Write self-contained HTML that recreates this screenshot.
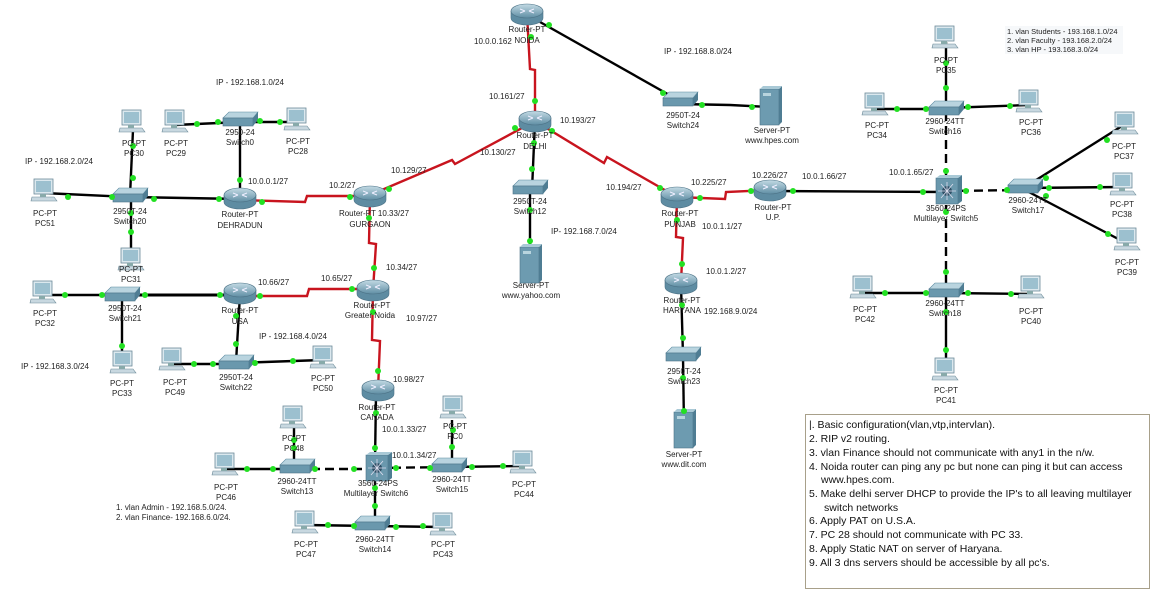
<!DOCTYPE html>
<html><head><meta charset="utf-8"><style>
html,body{margin:0;padding:0;background:#fff;}
svg{display:block;}
text{font-family:"Liberation Sans",sans-serif;font-size:8px;fill:#222;}
.lbl{text-anchor:middle;}
.box text{font-size:10.5px;fill:#111;}
</style></head><body>
<svg width="1157" height="601" viewBox="0 0 1157 601" xmlns="http://www.w3.org/2000/svg">
<defs>
<linearGradient id="rg" x1="0" y1="0" x2="0" y2="1"><stop offset="0" stop-color="#c4dbe5"/><stop offset="1" stop-color="#5f8ea4"/></linearGradient>
<linearGradient id="sg" x1="0" y1="0" x2="0" y2="1"><stop offset="0" stop-color="#a9c9d6"/><stop offset="1" stop-color="#5b8aa0"/></linearGradient>
<g id="router">
<path d="M-16,-3 L-16,4 A16,7 0 0 0 16,4 L16,-3 Z" fill="#5e8ca2" stroke="#4d7387" stroke-width="0.6"/>
<ellipse cx="0" cy="-3" rx="16" ry="7" fill="url(#rg)" stroke="#4d7387" stroke-width="0.6"/>
<path d="M-7,-5 L-2,-3 M7,-5 L2,-3 M-7,-1 L-2,-3 M7,-1 L2,-3" stroke="#eef" stroke-width="1"/>
</g>
<g id="switch">
<polygon points="-17,-3 -11,-9 18,-9 13,-3" fill="#b9d4df" stroke="#5b8aa0" stroke-width="0.6"/>
<rect x="-17" y="-3" width="30" height="8" fill="#6a98ad" stroke="#4d7387" stroke-width="0.6"/>
<polygon points="13,-3 18,-9 18,-1 13,5" fill="#4f7d93"/>
</g>
<g id="pc">
<rect x="-9" y="-14" width="19" height="15" fill="#dbe8ee" stroke="#6c8a98" stroke-width="0.8"/>
<rect x="-7" y="-12" width="15" height="11" fill="#9cc0cf"/>
<polygon points="-11,4 11,4 14,8 -12,8" fill="#c8d8e0" stroke="#6c8a98" stroke-width="0.6"/>
<rect x="-3" y="1" width="6" height="3" fill="#8aa"/>
</g>
<g id="server">
<rect x="-10" y="-18" width="19" height="36" fill="#6d9bb0" stroke="#4d7387" stroke-width="0.6"/>
<polygon points="9,-18 12,-21 12,15 9,18" fill="#4f7d93"/>
<polygon points="-10,-18 -7,-21 12,-21 9,-18" fill="#a9c9d6"/>
<rect x="-7" y="-14" width="8" height="3" fill="#b8d4de"/>
</g>
<g id="ml">
<rect x="-12" y="-13" width="22" height="26" fill="#6a98ad" stroke="#4d7387" stroke-width="0.6"/>
<polygon points="10,-13 14,-16 14,10 10,13" fill="#4f7d93"/>
<polygon points="-12,-13 -8,-16 14,-16 10,-13" fill="#a9c9d6"/>
<circle cx="-1" cy="0" r="5" fill="#2e4f66"/>
<path d="M-1,-9 L-1,9 M-10,0 L8,0 M-7,-7 L5,7 M5,-7 L-7,7" stroke="#dde" stroke-width="0.8"/>
</g>
</defs>

<!-- black links -->
<g stroke="#000" stroke-width="2.4" fill="none">
<path d="M133,130 L130,196"/><path d="M43,193 L130,197"/><path d="M130,197 L240,199"/><path d="M131,197 L131,262"/>
<path d="M175,125 L240,122"/><path d="M240,122 L298,122"/><path d="M240,125 L240,192"/>
<path d="M42,295 L122,295"/><path d="M122,295 L240,295" stroke-width="3"/><path d="M122,295 L122,360"/>
<path d="M240,295 L236,362"/><path d="M172,364 L236,364"/><path d="M236,363 L322,360"/>
<path d="M376,395 L375,462"/><path d="M225,469 L297,469"/><path d="M294,425 L294,467"/>
<path d="M452,420 L452,467"/><path d="M449,467 L522,466"/><path d="M375,470 L375,525"/>
<path d="M305,525 L372,526"/><path d="M372,526 L442,527"/>
<path d="M540,22 L680,101"/><path d="M680,104 L730,105 L770,107"/>
<path d="M535,121 L532,190"/><path d="M530,190 L530,258"/>
<path d="M770,191 L946,192"/>
<path d="M681,285 L683,356"/><path d="M683,356 L684,428"/>
<path d="M946,42 L946,112"/><path d="M876,109 L946,109"/><path d="M946,108 L1029,105"/>
<path d="M1025,187 L1122,126"/><path d="M1025,188 L1122,187"/><path d="M1025,190 L1124,242"/>
<path d="M862,293 L946,293"/><path d="M946,293 L1030,294"/><path d="M946,293 L946,372"/>
</g>
<!-- dashed -->
<g stroke="#000" stroke-width="2.4" fill="none" stroke-dasharray="9,5">
<path d="M297,469 L378,469"/><path d="M378,468 L449,467"/>
<path d="M946,112 L946,190"/><path d="M946,191 L1025,190"/><path d="M946,191 L946,293"/>
</g>
<!-- red serial -->
<g stroke="#c8141e" stroke-width="2.4" fill="none">
<path d="M240,200 L305,202 L307,196 L370,196"/>
<path d="M370,195 L452,160 L455,164 L535,121"/>
<path d="M370,196 L369,243 L376,244 L373,290"/>
<path d="M240,296 L307,296 L309,289 L373,289"/>
<path d="M373,290 L372,340 L380,341 L378,390"/>
<path d="M535,121 L535,70 L530,69 L527,14"/>
<path d="M535,121 L604,163 L607,157 L677,197"/>
<path d="M677,197 L725,199 L726,192 L770,190"/>
<path d="M677,197 L676,237 L683,238 L681,283"/>
</g>

<!-- nodes -->
<use href="#router" x="527" y="14"/><use href="#router" x="535" y="121"/>
<use href="#router" x="370" y="196"/><use href="#router" x="240" y="198"/>
<use href="#router" x="373" y="290"/><use href="#router" x="240" y="293"/>
<use href="#router" x="378" y="390"/><use href="#router" x="677" y="197"/>
<use href="#router" x="770" y="190"/><use href="#router" x="681" y="283"/>
<use href="#switch" x="680" y="101"/><use href="#switch" x="530" y="189"/>
<use href="#switch" x="240" y="121"/><use href="#switch" x="130" y="197"/>
<use href="#switch" x="122" y="296"/><use href="#switch" x="236" y="364"/>
<use href="#switch" x="297" y="468"/><use href="#switch" x="449" y="467"/>
<use href="#switch" x="372" y="525"/><use href="#switch" x="683" y="356"/>
<use href="#switch" x="946" y="110"/><use href="#switch" x="1025" y="188"/>
<use href="#switch" x="946" y="292"/>
<use href="#ml" x="378" y="468"/><use href="#ml" x="948" y="191"/>
<use href="#server" x="770" y="107"/><use href="#server" x="530" y="265"/><use href="#server" x="684" y="430"/>
<use href="#pc" x="131" y="124"/><use href="#pc" x="174" y="124"/><use href="#pc" x="296" y="122"/>
<use href="#pc" x="43" y="193"/><use href="#pc" x="130" y="262"/><use href="#pc" x="42" y="295"/>
<use href="#pc" x="122" y="365"/><use href="#pc" x="171" y="362"/><use href="#pc" x="322" y="360"/>
<use href="#pc" x="292" y="420"/><use href="#pc" x="224" y="467"/><use href="#pc" x="452" y="410"/>
<use href="#pc" x="522" y="465"/><use href="#pc" x="304" y="525"/><use href="#pc" x="442" y="527"/>
<use href="#pc" x="944" y="40"/><use href="#pc" x="874" y="107"/><use href="#pc" x="1028" y="104"/>
<use href="#pc" x="1124" y="126"/><use href="#pc" x="1122" y="187"/><use href="#pc" x="1126" y="242"/>
<use href="#pc" x="862" y="290"/><use href="#pc" x="1030" y="290"/><use href="#pc" x="944" y="372"/>

<!-- dots -->
<g fill="#22e022">
<circle cx="133" cy="146" r="3"/><circle cx="133" cy="178" r="3"/><circle cx="68" cy="197" r="3"/><circle cx="112" cy="197" r="3"/>
<circle cx="154" cy="199" r="3"/><circle cx="219" cy="199" r="3"/><circle cx="131" cy="213" r="3"/><circle cx="131" cy="232" r="3"/>
<circle cx="197" cy="124" r="3"/><circle cx="218" cy="122" r="3"/><circle cx="260" cy="121" r="3"/><circle cx="280" cy="122" r="3"/>
<circle cx="240" cy="180" r="3"/><circle cx="262" cy="202" r="3"/><circle cx="350" cy="197" r="3"/><circle cx="389" cy="189" r="3"/>
<circle cx="515" cy="128" r="3"/><circle cx="369" cy="218" r="3"/><circle cx="374" cy="268" r="3"/>
<circle cx="65" cy="295" r="3"/><circle cx="102" cy="295" r="3"/><circle cx="145" cy="295" r="3"/><circle cx="220" cy="295" r="3"/>
<circle cx="122" cy="346" r="3"/><circle cx="260" cy="296" r="3"/><circle cx="352" cy="289" r="3"/>
<circle cx="236" cy="316" r="3"/><circle cx="236" cy="344" r="3"/><circle cx="194" cy="364" r="3"/><circle cx="213" cy="364" r="3"/>
<circle cx="255" cy="363" r="3"/><circle cx="293" cy="361" r="3"/><circle cx="373" cy="312" r="3"/><circle cx="378" cy="371" r="3"/>
<circle cx="376" cy="413" r="3"/><circle cx="375" cy="448" r="3"/><circle cx="315" cy="469" r="3"/><circle cx="354" cy="469" r="3"/>
<circle cx="247" cy="469" r="3"/><circle cx="273" cy="469" r="3"/><circle cx="294" cy="440" r="3"/><circle cx="294" cy="448" r="3"/>
<circle cx="396" cy="468" r="3"/><circle cx="430" cy="468" r="3"/><circle cx="452" cy="447" r="3"/><circle cx="453" cy="430" r="3"/>
<circle cx="472" cy="467" r="3"/><circle cx="503" cy="466" r="3"/><circle cx="375" cy="488" r="3"/><circle cx="375" cy="506" r="3"/>
<circle cx="328" cy="525" r="3"/><circle cx="354" cy="526" r="3"/><circle cx="396" cy="527" r="3"/><circle cx="423" cy="526" r="3"/>
<circle cx="535" cy="101" r="3"/><circle cx="531" cy="37" r="3"/><circle cx="549" cy="25" r="3"/><circle cx="663" cy="93" r="3"/>
<circle cx="702" cy="105" r="3"/><circle cx="752" cy="107" r="3"/><circle cx="534" cy="143" r="3"/><circle cx="532" cy="169" r="3"/>
<circle cx="530" cy="210" r="3"/><circle cx="530" cy="241" r="3"/><circle cx="552" cy="131" r="3"/><circle cx="660" cy="188" r="3"/>
<circle cx="700" cy="198" r="3"/><circle cx="751" cy="191" r="3"/><circle cx="677" cy="220" r="3"/><circle cx="682" cy="264" r="3"/>
<circle cx="793" cy="191" r="3"/><circle cx="923" cy="192" r="3"/><circle cx="682" cy="305" r="3"/><circle cx="683" cy="338" r="3"/>
<circle cx="683" cy="378" r="3"/><circle cx="684" cy="411" r="3"/>
<circle cx="946" cy="171" r="3"/><circle cx="946" cy="88" r="3"/><circle cx="946" cy="63" r="3"/>
<circle cx="897" cy="109" r="3"/><circle cx="926" cy="109" r="3"/><circle cx="968" cy="107" r="3"/><circle cx="1010" cy="106" r="3"/>
<circle cx="966" cy="191" r="3"/><circle cx="1007" cy="190" r="3"/><circle cx="1046" cy="178" r="3"/><circle cx="1107" cy="140" r="3"/>
<circle cx="1049" cy="188" r="3"/><circle cx="1100" cy="187" r="3"/><circle cx="1046" cy="196" r="3"/><circle cx="1108" cy="234" r="3"/>
<circle cx="946" cy="212" r="3"/><circle cx="946" cy="272" r="3"/><circle cx="885" cy="293" r="3"/><circle cx="926" cy="293" r="3"/>
<circle cx="968" cy="293" r="3"/><circle cx="1011" cy="294" r="3"/><circle cx="946" cy="312" r="3"/><circle cx="946" cy="350" r="3"/>
</g>

<!-- node labels -->
<g class="lbl">
<text x="527" y="32" class="lbl">Router-PT</text><text x="527" y="43" class="lbl">NOIDA</text>
<text x="535" y="138" class="lbl">Router-PT</text><text x="535" y="149" class="lbl">DELHI</text>
<text x="374" y="216" class="lbl">Router-PT 10.33/27</text><text x="370" y="227" class="lbl">GURGAON</text>
<text x="240" y="217" class="lbl">Router-PT</text><text x="240" y="228" class="lbl">DEHRADUN</text>
<text x="372" y="308" class="lbl">Router-PT</text><text x="370" y="318" class="lbl">Greater Noida</text>
<text x="240" y="313" class="lbl">Router-PT</text><text x="240" y="324" class="lbl">USA</text>
<text x="377" y="410" class="lbl">Router-PT</text><text x="377" y="420" class="lbl">CANADA</text>
<text x="680" y="216" class="lbl">Router-PT</text><text x="680" y="227" class="lbl">PUNJAB</text>
<text x="773" y="210" class="lbl">Router-PT</text><text x="773" y="220" class="lbl">U.P.</text>
<text x="682" y="303" class="lbl">Router-PT</text><text x="682" y="313" class="lbl">HARYANA</text>
<text x="683" y="118" class="lbl">2950T-24</text><text x="683" y="128" class="lbl">Switch24</text>
<text x="530" y="204" class="lbl">2950T-24</text><text x="530" y="214" class="lbl">Switch12</text>
<text x="240" y="135" class="lbl">2950-24</text><text x="240" y="145" class="lbl">Switch0</text>
<text x="130" y="214" class="lbl">2950T-24</text><text x="130" y="224" class="lbl">Switch20</text>
<text x="125" y="311" class="lbl">2950T-24</text><text x="125" y="321" class="lbl">Switch21</text>
<text x="236" y="380" class="lbl">2950T-24</text><text x="236" y="390" class="lbl">Switch22</text>
<text x="297" y="484" class="lbl">2960-24TT</text><text x="297" y="494" class="lbl">Switch13</text>
<text x="452" y="482" class="lbl">2960-24TT</text><text x="452" y="492" class="lbl">Switch15</text>
<text x="375" y="542" class="lbl">2960-24TT</text><text x="375" y="552" class="lbl">Switch14</text>
<text x="378" y="486" class="lbl">3560-24PS</text><text x="376" y="496" class="lbl">Multilayer Switch6</text>
<text x="684" y="374" class="lbl">2950T-24</text><text x="684" y="384" class="lbl">Switch23</text>
<text x="945" y="124" class="lbl">2960-24TT</text><text x="945" y="134" class="lbl">Switch16</text>
<text x="1028" y="203" class="lbl">2960-24TT</text><text x="1028" y="213" class="lbl">Switch17</text>
<text x="945" y="306" class="lbl">2960-24TT</text><text x="945" y="316" class="lbl">Switch18</text>
<text x="946" y="211" class="lbl">3560-24PS</text><text x="946" y="221" class="lbl">Multilayer Switch5</text>
<text x="772" y="133" class="lbl">Server-PT</text><text x="772" y="143" class="lbl">www.hpes.com</text>
<text x="531" y="288" class="lbl">Server-PT</text><text x="531" y="298" class="lbl">www.yahoo.com</text>
<text x="684" y="457" class="lbl">Server-PT</text><text x="684" y="467" class="lbl">www.dit.com</text>
<text x="134" y="146" class="lbl">PC-PT</text><text x="134" y="156" class="lbl">PC30</text>
<text x="176" y="146" class="lbl">PC-PT</text><text x="176" y="156" class="lbl">PC29</text>
<text x="298" y="144" class="lbl">PC-PT</text><text x="298" y="154" class="lbl">PC28</text>
<text x="45" y="216" class="lbl">PC-PT</text><text x="45" y="226" class="lbl">PC51</text>
<text x="131" y="272" class="lbl">PC-PT</text><text x="131" y="282" class="lbl">PC31</text>
<text x="45" y="316" class="lbl">PC-PT</text><text x="45" y="326" class="lbl">PC32</text>
<text x="122" y="386" class="lbl">PC-PT</text><text x="122" y="396" class="lbl">PC33</text>
<text x="175" y="385" class="lbl">PC-PT</text><text x="175" y="395" class="lbl">PC49</text>
<text x="323" y="381" class="lbl">PC-PT</text><text x="323" y="391" class="lbl">PC50</text>
<text x="294" y="441" class="lbl">PC-PT</text><text x="294" y="451" class="lbl">PC48</text>
<text x="226" y="490" class="lbl">PC-PT</text><text x="226" y="500" class="lbl">PC46</text>
<text x="455" y="429" class="lbl">PC-PT</text><text x="455" y="439" class="lbl">PC0</text>
<text x="524" y="487" class="lbl">PC-PT</text><text x="524" y="497" class="lbl">PC44</text>
<text x="306" y="547" class="lbl">PC-PT</text><text x="306" y="557" class="lbl">PC47</text>
<text x="443" y="547" class="lbl">PC-PT</text><text x="443" y="557" class="lbl">PC43</text>
<text x="946" y="63" class="lbl">PC-PT</text><text x="946" y="73" class="lbl">PC35</text>
<text x="877" y="128" class="lbl">PC-PT</text><text x="877" y="138" class="lbl">PC34</text>
<text x="1031" y="125" class="lbl">PC-PT</text><text x="1031" y="135" class="lbl">PC36</text>
<text x="1124" y="149" class="lbl">PC-PT</text><text x="1124" y="159" class="lbl">PC37</text>
<text x="1122" y="207" class="lbl">PC-PT</text><text x="1122" y="217" class="lbl">PC38</text>
<text x="1127" y="265" class="lbl">PC-PT</text><text x="1127" y="275" class="lbl">PC39</text>
<text x="865" y="312" class="lbl">PC-PT</text><text x="865" y="322" class="lbl">PC42</text>
<text x="1031" y="314" class="lbl">PC-PT</text><text x="1031" y="324" class="lbl">PC40</text>
<text x="946" y="393" class="lbl">PC-PT</text><text x="946" y="403" class="lbl">PC41</text>
</g>

<!-- link / IP labels -->
<g>
<text x="474" y="44">10.0.0.162</text>
<text x="489" y="99">10.161/27</text>
<text x="560" y="123">10.193/27</text>
<text x="480" y="155">10.130/27</text>
<text x="391" y="173">10.129/27</text>
<text x="329" y="188">10.2/27</text>
<text x="248" y="184">10.0.0.1/27</text>
<text x="386" y="270">10.34/27</text>
<text x="321" y="281">10.65/27</text>
<text x="258" y="285">10.66/27</text>
<text x="406" y="321">10.97/27</text>
<text x="393" y="382">10.98/27</text>
<text x="382" y="432">10.0.1.33/27</text>
<text x="392" y="458">10.0.1.34/27</text>
<text x="606" y="190">10.194/27</text>
<text x="691" y="185">10.225/27</text>
<text x="752" y="178">10.226/27</text>
<text x="702" y="229">10.0.1.1/27</text>
<text x="706" y="274">10.0.1.2/27</text>
<text x="704" y="314">192.168.9.0/24</text>
<text x="802" y="179">10.0.1.66/27</text>
<text x="889" y="175">10.0.1.65/27</text>
<text x="216" y="85">IP - 192.168.1.0/24</text>
<text x="25" y="164">IP - 192.168.2.0/24</text>
<text x="21" y="369">IP - 192.168.3.0/24</text>
<text x="259" y="339">IP - 192.168.4.0/24</text>
<text x="664" y="54">IP - 192.168.8.0/24</text>
<text x="551" y="234">IP- 192.168.7.0/24</text>
<text x="116" y="510">1. vlan Admin - 192.168.5.0/24.</text>
<text x="116" y="520">2. vlan Finance- 192.168.6.0/24.</text>
<rect x="1005" y="26" width="118" height="28" fill="#f6f8fa"/>
<text x="1007" y="34" style="font-size:7.5px">1. vlan Students - 193.168.1.0/24</text>
<text x="1007" y="43" style="font-size:7.5px">2. vlan Faculty - 193.168.2.0/24</text>
<text x="1007" y="52" style="font-size:7.5px">3. vlan HP - 193.168.3.0/24</text>
</g>

<!-- requirements box -->
<g class="box">
<rect x="805.5" y="414.5" width="344" height="174" fill="#fff" stroke="#a8a08a" stroke-width="1"/>
<text x="809" y="428">|. Basic configuration(vlan,vtp,intervlan).</text>
<text x="809" y="442">2. RIP v2 routing.</text>
<text x="809" y="456">3. vlan Finance should not communicate with any1 in the n/w.</text>
<text x="809" y="470">4. Noida router can ping any pc but none can ping it but can access</text>
<text x="821" y="483">www.hpes.com.</text>
<text x="809" y="497">5. Make delhi server DHCP to provide the IP's to all leaving multilayer</text>
<text x="824" y="511">switch networks</text>
<text x="809" y="524">6. Apply PAT on U.S.A.</text>
<text x="809" y="538">7. PC 28 should not communicate with PC 33.</text>
<text x="809" y="552">8. Apply Static NAT on server of Haryana.</text>
<text x="809" y="566">9. All 3 dns servers should be accessible by all pc's.</text>
</g>
</svg>
</body></html>
